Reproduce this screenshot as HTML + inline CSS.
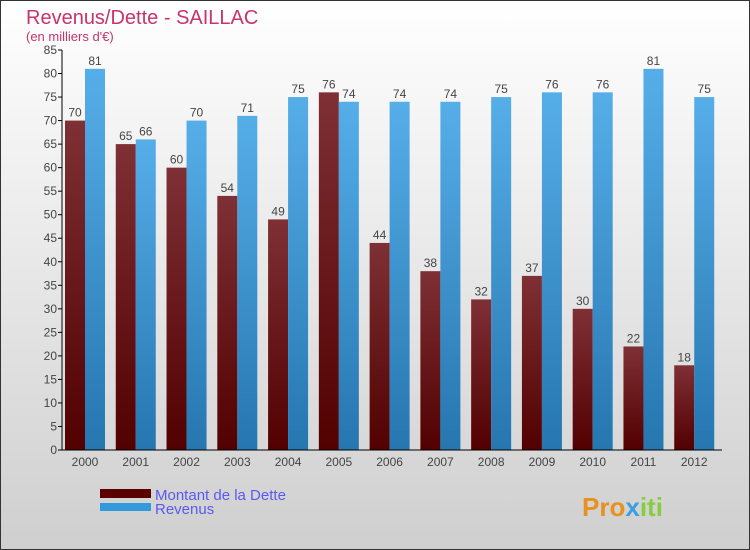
<!DOCTYPE html>
<html><head><meta charset="utf-8"><style>
body{margin:0}
#c{width:750px;height:550px;position:relative;overflow:hidden;font-family:"Liberation Sans",sans-serif}
</style></head><body>
<div id="c">
<svg width="750" height="550" xmlns="http://www.w3.org/2000/svg">
<defs>
<linearGradient id="bg" x1="0" y1="0" x2="0" y2="1"><stop offset="0" stop-color="#ffffff"/><stop offset="1" stop-color="#cfcfcf"/></linearGradient>
<linearGradient id="gd" x1="0" y1="0" x2="0" y2="1"><stop offset="0" stop-color="#7e3035"/><stop offset="1" stop-color="#520000"/></linearGradient>
<linearGradient id="gr" x1="0" y1="0" x2="0" y2="1"><stop offset="0" stop-color="#56aee8"/><stop offset="1" stop-color="#2676b0"/></linearGradient>
</defs>
<rect x="0.5" y="0.5" width="749" height="549" fill="url(#bg)" stroke="#333"/>
<text x="26" y="24" font-size="20" fill="#c8336a">Revenus/Dette - SAILLAC</text>
<text x="26" y="41" font-size="13" fill="#c8336a">(en milliers d'€)</text>
<g id="plot"></g>
<g>
<rect x="100" y="489" width="51" height="9" fill="#5a0000"/>
<text x="155" y="500" font-size="15" fill="#5a5af0">Montant de la Dette</text>
<rect x="100" y="503" width="51" height="8" fill="#3399dd"/>
<text x="155" y="514" font-size="15" fill="#5a5af0">Revenus</text>
</g>
<text x="582" y="516" font-size="26" font-weight="bold" fill="#e89020">Pro<tspan fill="#3aa0e0">x</tspan><tspan fill="#8c4">iti</tspan></text>
</svg>
</div>
<script>
const years=["2000","2001","2002","2003","2004","2005","2006","2007","2008","2009","2010","2011","2012"];
const dette=[70,65,60,54,49,76,44,38,32,37,30,22,18];
const revenus=[81,66,70,71,75,74,74,74,75,76,76,81,75];
const yTicks=[0,5,10,15,20,25,30,35,40,45,50,55,60,65,70,75,80,85];
const NS="http://www.w3.org/2000/svg";
const g=document.getElementById('plot');
const x0=62,x1=722,yB=450,yT=50,yMax=85;
const y=v=>yB-(v/yMax)*(yB-yT);
const gw=(x1-x0)/years.length;
function mk(t,a){const e=document.createElementNS(NS,t);for(const k in a)e.setAttribute(k,a[k]);g.appendChild(e);return e;}
years.forEach((yr,i)=>{
  const gx=x0+i*gw;
  const b1=mk('rect',{x:gx+3,y:y(dette[i]),width:20,height:yB-y(dette[i]),fill:'url(#gd)'});
  
  
  const b2=mk('rect',{x:gx+23,y:y(revenus[i]),width:20,height:yB-y(revenus[i]),fill:'url(#gr)'});
  
  
  const l1=mk('text',{x:gx+13,y:y(dette[i])-4,'font-size':12,fill:'#444','text-anchor':'middle'});l1.textContent=dette[i];
  
  
  const l2=mk('text',{x:gx+33,y:y(revenus[i])-4,'font-size':12,fill:'#444','text-anchor':'middle'});l2.textContent=revenus[i];
  
  
  const xl=mk('text',{x:gx+23,y:466,'font-size':12,fill:'#444','text-anchor':'middle'});xl.textContent=yr;
  
  
});
yTicks.forEach(t=>{
  const tk=mk('line',{x1:x0-4,x2:x0,y1:y(t),y2:y(t),stroke:'#000'});
  
  
  const tl=mk('text',{x:x0-5,y:y(t)+4,'font-size':12,fill:'#444','text-anchor':'end'});tl.textContent=t;
  
  
});
const ya=mk('line',{x1:x0,x2:x0,y1:yT,y2:yB,stroke:'#000'});


const xa=mk('line',{x1:x0,x2:x1,y1:yB,y2:yB,stroke:'#000'});


</script>
</body></html>
